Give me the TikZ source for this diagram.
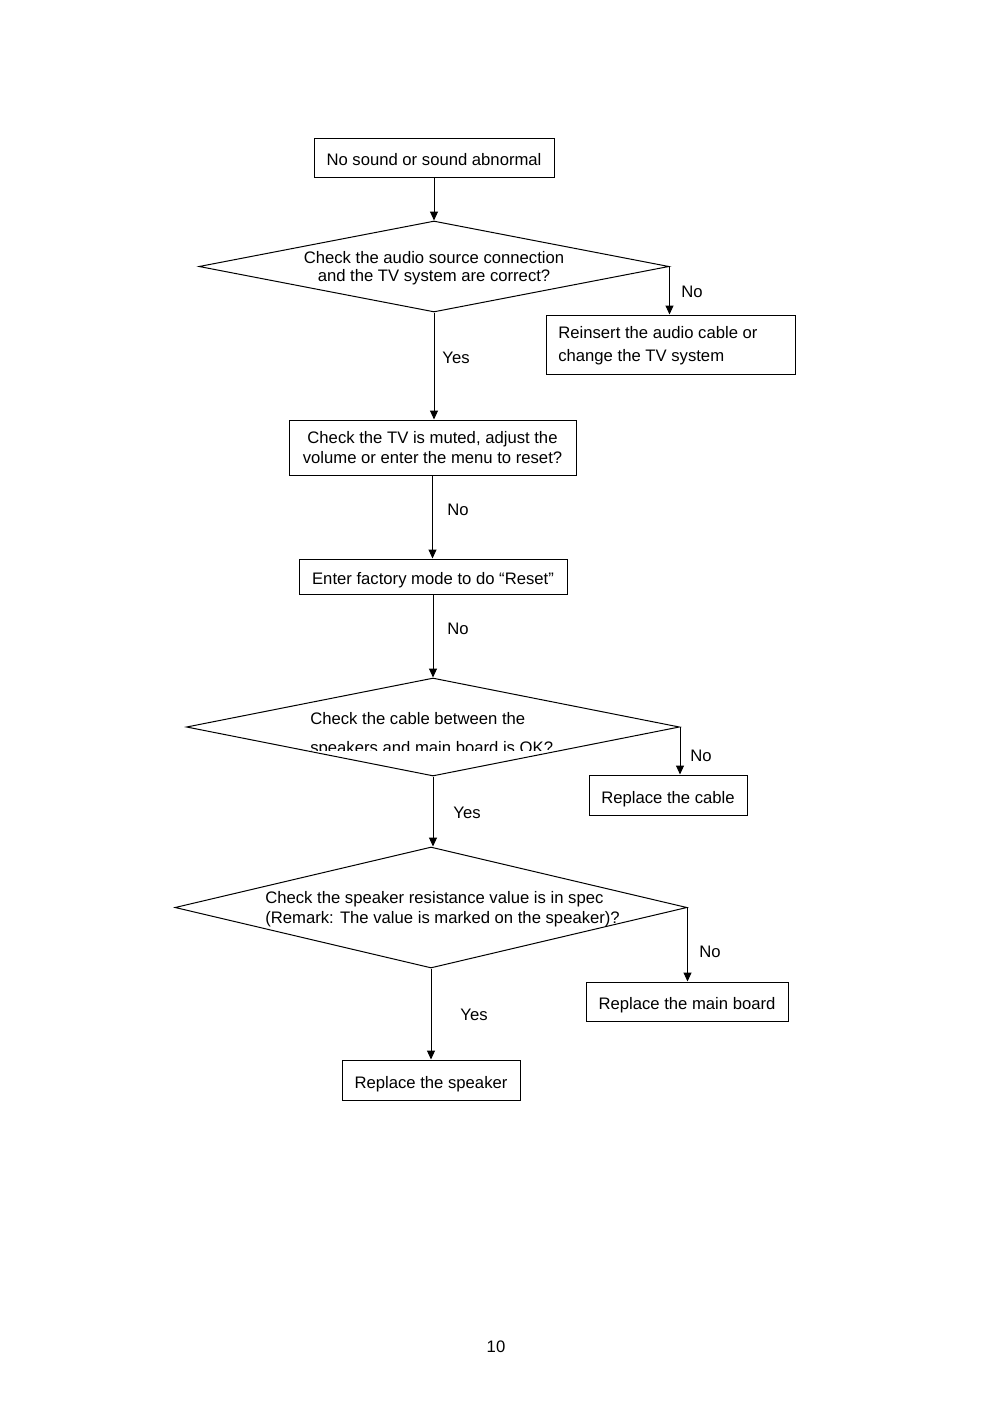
\documentclass[tikz,border=0pt]{standalone}
\usepackage{fontspec}
\setmainfont{Liberation Sans}
\usetikzlibrary{shapes.geometric,arrows.meta}
\newdimen\px \px=0.6pt
\begin{document}
\begin{tikzpicture}[x=0.6pt,y=-0.6pt,
  every node/.style={font=\fontsize{10}{12}\selectfont},
  box/.style={draw, line width=0.6pt, inner sep=0pt, align=center},
  onebox/.style={box, text height=10pt, text depth=0pt},
  dia/.style={draw, diamond, line width=0.6pt, inner sep=0pt},
  txt/.style={inner sep=0pt, align=center},
  lbl/.style={inner sep=0pt},
  arr/.style={line width=0.6pt, -{Triangle[length=5.4pt,width=4.8pt]}}]
\useasboundingbox (0,0) rectangle (992,1404);

\node[onebox, minimum width=240\px, minimum height=39\px] (start) at (434,157.5) {No sound or sound abnormal};
\node[dia, minimum width=470\px, minimum height=91\px] (d1) at (434,266.5) {};
\node[txt, font=\fontsize{10}{10.8}\selectfont] (d1t) at (434,268) {Check the audio source connection\\and the TV system are correct?};
\node[box, minimum width=249\px, minimum height=59\px] (r1) at (670.5,344.5) {};
\node[txt, align=left, anchor=west, font=\fontsize{10}{13.8}\selectfont] (r1t) at (558,346) {Reinsert the audio cable or\\change the TV system};
\node[box, minimum width=287\px, minimum height=55\px, font=\fontsize{10}{12}\selectfont] (c1) at (432.5,447.5) {Check the TV is muted, adjust the\\volume or enter the menu to reset?};
\node[onebox, minimum width=268\px, minimum height=35\px] (f1) at (433,576.5) {Enter factory mode to do “Reset”};
\node[dia, minimum width=493\px, minimum height=98\px] (d2) at (433,727) {};
\begin{scope}
\clip (150,690) rectangle (720,750);
\node[txt, align=left, anchor=west, font=\fontsize{10}{17.4}\selectfont] (d2t) at (310,735) {Check the cable between the\\speakers and main board is OK?};
\end{scope}
\node[onebox, minimum width=158\px, minimum height=40\px] (rc) at (668,795) {Replace the cable};
\node[dia, minimum width=512\px, minimum height=121\px] (d3) at (431,907.5) {};
\node[txt, align=left, anchor=west] (d3t) at (265,909) {Check the speaker resistance value is in spec\\(Remark: The value is marked on the speaker)?};
\node[onebox, minimum width=202\px, minimum height=39\px] (rm) at (687,1001.5) {Replace the main board};
\node[onebox, minimum width=178\px, minimum height=40\px] (rs) at (431,1080) {Replace the speaker};
\node[lbl] (pg) at (496,1347) {10};

\draw[arr] (start.south) -- (d1.north);
\draw[arr] (d1.east) -- (d1.east |- r1.north);
\draw[arr] (d1.south) -- (d1.south |- c1.north);
\draw[arr] (c1.south) -- (c1.south |- f1.north);
\draw[arr] (f1.south) -- (d2.north);
\draw[arr] (d2.east) -- (d2.east |- rc.north);
\draw[arr] (d2.south) -- (d2.south |- d3.north);
\draw[arr] (d3.east) -- (d3.east |- rm.north);
\draw[arr] (d3.south) -- (rs.north);

\node[lbl] (l1) at (692,292) {No};
\node[lbl] (l2) at (456,358) {Yes};
\node[lbl] (l3) at (458,510) {No};
\node[lbl] (l4) at (458,629) {No};
\node[lbl] (l5) at (701,756) {No};
\node[lbl] (l6) at (467,813) {Yes};
\node[lbl] (l7) at (710,952) {No};
\node[lbl] (l8) at (474,1015) {Yes};
\end{tikzpicture}
\end{document}
